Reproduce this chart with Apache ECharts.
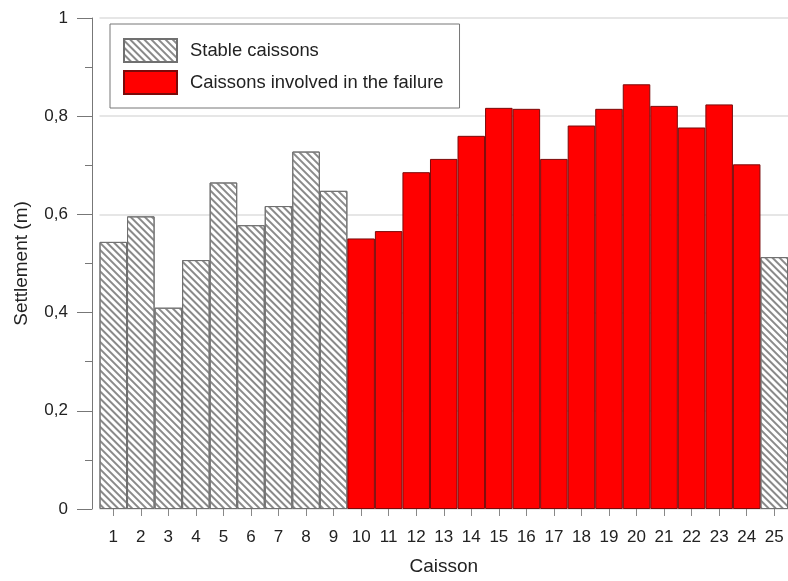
<!DOCTYPE html>
<html>
<head>
<meta charset="utf-8">
<script src="https://cdn.jsdelivr.net/npm/echarts@6/dist/echarts.min.js"></script>
<style>html,body{margin:0;padding:0;background:#fff}#c{width:788px;height:581px}</style>
</head>
<body>
<div id="c"></div>
<script>
const caissons = ['1','2','3','4','5','6','7','8','9','10','11','12','13','14','15','16','17','18','19','20','21','22','23','24','25'];
const stableCaissons = [0.544, 0.596, 0.410, 0.507, 0.665, 0.578, 0.617, 0.728, 0.648, '-', '-', '-', '-', '-', '-', '-', '-', '-', '-', '-', '-', '-', '-', '-', 0.513];
const failureCaissons = ['-', '-', '-', '-', '-', '-', '-', '-', '-', 0.551, 0.566, 0.686, 0.713, 0.760, 0.817, 0.815, 0.713, 0.781, 0.815, 0.865, 0.821, 0.777, 0.824, 0.702, '-'];
const yTicks = [0, 0.2, 0.4, 0.6, 0.8, 1];

const FONT = 'Liberation Sans, Arial, sans-serif';
const chart = echarts.init(document.getElementById('c'), null, {renderer: 'canvas'});
chart.setOption({
  animation: false,
  backgroundColor: '#fff',
  textStyle: {fontFamily: FONT},
  grid: {left: 99.5, top: 18, width: 690, height: 491},
  legend: {
    orient: 'vertical',
    left: 110, top: 24,
    padding: [14, 16, 13, 13],
    icon: 'rect',
    itemWidth: 53, itemHeight: 23, itemGap: 7,
    borderColor: '#777', borderWidth: 1,
    backgroundColor: '#fff',
    textStyle: {fontSize: 18.4, color: '#222', fontFamily: FONT, padding: [0, 0, 0, 8]},
    data: ['Stable caissons', 'Caissons involved in the failure']
  },
  xAxis: {
    type: 'category',
    data: caissons,
    name: 'Caisson',
    nameLocation: 'middle',
    nameGap: 48,
    nameTextStyle: {fontSize: 19, color: '#222', fontFamily: FONT},
    axisLine: {show: false},
    axisTick: {show: true, alignWithLabel: true, length: 7, lineStyle: {color: '#888'}},
    axisLabel: {fontSize: 17, color: '#222', margin: 20, fontFamily: FONT, interval: 0},
    splitLine: {show: false}
  },
  yAxis: {
    type: 'value',
    min: 0, max: 1, interval: 0.2,
    offset: 7.5,
    name: 'Settlement (m)',
    nameLocation: 'middle',
    nameGap: 61,
    nameTextStyle: {fontSize: 19, color: '#222', fontFamily: FONT},
    axisLine: {show: true, lineStyle: {color: '#777', width: 1}},
    axisTick: {show: true, length: 15, lineStyle: {color: '#777'}},
    minorTick: {show: true, splitNumber: 2, length: 7, lineStyle: {color: '#777'}},
    axisLabel: {
      fontSize: 17, color: '#222', margin: 24, fontFamily: FONT,
      formatter: function (v) {
        const t = yTicks.find(x => Math.abs(x - v) < 1e-9);
        return String(t !== undefined ? t : v).replace('.', ',');
      }
    },
    splitLine: {show: true, lineStyle: {color: '#e6e6e6', width: 2}}
  },
  series: [
    {
      name: 'Stable caissons',
      type: 'bar',
      data: stableCaissons,
      barGap: '-100%',
      barCategoryGap: 0,
      itemStyle: {
        color: '#ffffff',
        borderColor: '#707070',
        borderWidth: 1,
        decal: {
          symbol: 'rect',
          symbolSize: 1,
          color: '#8a8a8a',
          dashArrayX: [1, 0],
          dashArrayY: [1.3, 2.3],
          rotation: Math.PI / 4
        }
      }
    },
    {
      name: 'Caissons involved in the failure',
      type: 'bar',
      data: failureCaissons,
      barGap: '-100%',
      barCategoryGap: 0,
      itemStyle: {color: '#ff0000', borderColor: '#7a0a0a', borderWidth: 1}
    }
  ]
});
</script>
</body>
</html>
